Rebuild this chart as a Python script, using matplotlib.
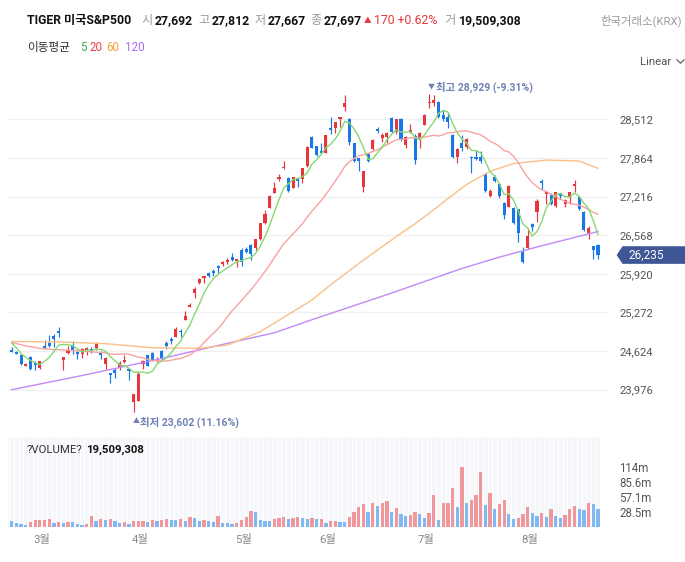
import numpy as np
import pandas as pd
import matplotlib
matplotlib.use("Agg")
import matplotlib.pyplot as plt
import matplotlib.transforms as mtransforms
from matplotlib.patches import Polygon

plt.rcParams['font.family'] = ['Roboto', 'Noto Sans CJK KR', 'DejaVu Sans']

# ---------------- data ----------------
opens = [
    24637, 24609, 24553, 24379, 24525, 24430, 24340, 24715, 24765, 24883,
    24966, 24480, 24597, 24709, 24614, 24581, 24637, 24664, 24676, 24597,
    24413, 24256, 24312, 24340, 24441, 24329, 23764, 23792, 24413, 24553,
    24592, 24452, 24625, 24754, 24827, 24866, 24961, 25145, 25368, 25592,
    25760, 25855, 25927, 25966, 26056, 26084, 26123, 26207, 26134, 26319,
    26336, 26403, 26358, 26504, 26778, 27018, 27281, 27505, 27689, 27521,
    27365, 27505, 27505, 27729, 28221, 28070, 27986, 27941, 28360, 28360,
    28511, 28724, 28511, 28109, 27857, 27382, 27930, 28014, 28344, 28193,
    28221, 28528, 28304, 28511, 28081, 28304, 28237, 28182, 28416, 28780,
    28791, 28808, 28584, 28556, 28249, 27874, 28120, 28053, 27885, 27874,
    27874, 27589, 27225, 27550, 27427, 27114, 27035, 27019, 27002, 26292,
    26348, 26756, 26963, 27483, 27259, 27242, 27058, 27270, 27091, 27203,
    27393, 27203, 26963, 26610, 26392, 26404]
highs = [
    24687, 24620, 24575, 24420, 24536, 24463, 24463, 24804, 24888, 24905,
    25022, 24519, 24715, 24799, 24631, 24676, 24698, 24687, 24776, 24620,
    24525, 24256, 24335, 24463, 24553, 24329, 23904, 24284, 24469, 24564,
    24603, 24519, 24637, 24793, 24855, 25022, 25000, 25296, 25424, 25704,
    25844, 25883, 25950, 25994, 26067, 26140, 26179, 26263, 26168, 26353,
    26375, 26414, 26504, 26778, 26990, 27242, 27454, 27589, 27818, 27538,
    27550, 27521, 27701, 28064, 28237, 28070, 28109, 28249, 28545, 28472,
    28545, 28915, 28528, 28109, 27868, 27645, 27941, 28182, 28388, 28288,
    28293, 28545, 28511, 28528, 28232, 28427, 28260, 28293, 28595, 28929,
    28920, 28819, 28668, 28612, 28260, 28025, 28249, 28204, 27896, 27997,
    27986, 27595, 27337, 27578, 27438, 27130, 27410, 27035, 27002, 26376,
    26683, 26767, 27170, 27511, 27298, 27270, 27298, 27281, 27175, 27298,
    27494, 27214, 26974, 26722, 26392, 26415]
lows = [
    24603, 24575, 24396, 24375, 24301, 24301, 24323, 24664, 24687, 24698,
    24855, 24312, 24575, 24581, 24497, 24508, 24553, 24586, 24648, 24497,
    24329, 24089, 24172, 24312, 24430, 24139, 23602, 23781, 24329, 24368,
    24452, 24441, 24480, 24653, 24737, 24855, 24866, 25145, 25368, 25520,
    25743, 25760, 25872, 25888, 25927, 26050, 26084, 26140, 26039, 26050,
    26263, 26151, 26319, 26487, 26755, 27018, 27281, 27482, 27678, 27298,
    27354, 27382, 27449, 27717, 28025, 27902, 27930, 27941, 28265, 28288,
    28377, 28657, 28081, 27790, 27645, 27298, 27801, 27997, 28277, 28137,
    28109, 28288, 28260, 28154, 28025, 28277, 27762, 28025, 28416, 28707,
    28741, 28539, 28489, 28360, 27857, 27773, 27986, 28008, 27606, 27829,
    27785, 27298, 27214, 27466, 27186, 26840, 27035, 26756, 26459, 26096,
    26331, 26644, 26795, 27337, 27091, 27074, 27035, 27170, 27035, 27091,
    27298, 26991, 26644, 26499, 26163, 26163]
closes = [
    24603, 24581, 24413, 24413, 24323, 24396, 24458, 24681, 24709, 24832,
    24933, 24519, 24648, 24637, 24581, 24653, 24676, 24620, 24760, 24553,
    24508, 24228, 24262, 24418, 24474, 24295, 23904, 24239, 24452, 24379,
    24463, 24497, 24515, 24709, 24787, 24994, 24944, 25212, 25402, 25665,
    25827, 25883, 25883, 25927, 26022, 26123, 26151, 26151, 26168, 26112,
    26280, 26246, 26504, 26767, 26923, 27225, 27365, 27550, 27717, 27315,
    27538, 27482, 27689, 28042, 28036, 27913, 27941, 28249, 28332, 28472,
    28545, 28791, 28126, 27812, 27812, 27645, 27818, 28165, 28316, 28249,
    28277, 28304, 28511, 28165, 28221, 28332, 27829, 28277, 28584, 28808,
    28836, 28556, 28511, 28472, 27874, 28008, 28036, 28176, 27857, 27852,
    27818, 27315, 27315, 27483, 27225, 26907, 27393, 26767, 26599, 26124,
    26554, 26711, 27147, 27438, 27298, 27091, 27287, 27225, 27158, 27287,
    27421, 27002, 26655, 26683, 26320, 26235]

# volume in millions of shares
volumes_m = [
    10.8, 8.2, 6.3, 4.4, 10.1, 12.5, 12.7, 12.9, 14.6, 7.0,
    8.9, 7.0, 8.9, 8.7, 6.3, 4.4, 6.3, 20.3, 10.8, 14.6,
    12.7, 14.6, 10.8, 7.0, 8.9, 5.1, 10.6, 10.8, 11.0, 8.9,
    12.7, 10.8, 12.7, 14.6, 12.7, 12.5, 14.6, 10.8, 18.4, 16.5,
    10.8, 12.7, 10.8, 8.9, 20.3, 7.0, 6.9, 5.1, 7.0, 12.7,
    18.4, 29.8, 27.9, 12.7, 10.8, 10.6, 14.6, 16.5, 18.4, 14.6,
    16.5, 18.4, 16.5, 14.6, 16.5, 14.6, 14.8, 8.2, 10.8, 11.0,
    8.9, 8.7, 18.4, 27.9, 37.4, 43.1, 27.9, 45.0, 39.3, 45.0,
    48.8, 27.9, 35.5, 24.1, 20.3, 22.2, 27.9, 24.1, 16.5, 26.0,
    60.2, 12.7, 45.0, 45.3, 73.5, 37.4, 113.4, 45.0, 50.7, 60.2,
    103.9, 41.2, 64.0, 33.6, 43.1, 50.7, 24.1, 14.6, 16.5, 24.1,
    37.4, 26.0, 20.3, 26.0, 18.4, 33.6, 20.3, 16.5, 22.2, 33.6,
    39.3, 33.6, 31.7, 45.0, 43.1, 33.6]
# 1 = volume rose vs previous day (red), 0 = fell (blue)
volume_up = [
    0, 0, 0, 0, 1, 1, 1, 1, 1, 0, 1, 0, 1, 0, 0, 0, 1, 1, 0, 1,
    0, 1, 0, 0, 1, 0, 1, 1, 1, 0, 1, 0, 1, 1, 0, 0, 1, 0, 1, 0,
    0, 1, 0, 0, 1, 0, 0, 0, 1, 1, 1, 1, 0, 0, 0, 0, 1, 1, 1, 0,
    1, 1, 0,
    0, 1, 0, 1, 0, 1, 1, 0, 0, 1, 1, 1, 1, 0, 1, 0, 1, 1, 0, 1,
    0, 0, 1, 1, 0, 0, 1, 1, 0, 1, 1, 1, 0, 1, 0, 1, 1, 1, 0, 1,
    0, 1, 1, 0, 0, 1, 1, 1, 0, 0, 1, 0, 1, 0, 0, 1, 1, 1, 0, 0,
    1, 0, 0]

# moving averages (parts that need history before the visible window)
ma5_head = [24760, 24680, 24580, 24520]
ma20_head_idx = [0, 3, 6, 9, 12, 15, 18]
ma20_head = [24770, 24710, 24670, 24650, 24640, 24625, 24605]
ma60_idx = [0, 10, 20, 30, 40, 46, 53, 60, 64, 68, 75, 82, 86, 89, 93, 97, 102, 107, 114, 121, 125]
ma60_val = [24785, 24778, 24748, 24680, 24670, 24725, 24950, 25285, 25480, 25735,
            26150, 26545, 26760, 26935, 27180, 27420, 27640, 27770, 27828, 27812, 27690]
ma120_idx = [0, 16, 32, 48, 56, 64, 72, 80, 88, 96, 104, 112, 118, 125]
ma120_val = [23976, 24230, 24500, 24790, 24930, 25150, 25360, 25570, 25790, 26010,
             26200, 26370, 26490, 26630]

month_start = [6, 27, 49, 67, 88, 110]
month_labels = ['3월', '4월', '5월', '6월', '7월', '8월']
price_ticks = [23976, 24624, 25272, 25920, 26568, 27216, 27864, 28512]
vol_ticks_m = [28.55, 57.1, 85.65, 114.2]
vol_tick_labels = ['28.5m', '57.1m', '85.6m', '114m']

name = 'TIGER 미국S&P500'
sel_open, sel_high, sel_low, sel_close = 27692, 27812, 27667, 27697
sel_change, sel_pct, sel_volume = 170, 0.62, 19509308

# ---------------- styling ----------------
RED, BLUE = '#e8353b', '#1a78e6'
VRED, VBLUE = '#f0979b', '#80b8f2'
C5, C20, C60, C120 = '#86d872', '#f7a3a3', '#fbbf88', '#c08af7'
ANN = '#6f80b5'

W, H = 685, 562
fig = plt.figure(figsize=(W / 100, H / 100), dpi=100)
fig.patch.set_facecolor('white')


def rect(x0, y0, x1, y1):
    return [x0 / W, 1 - y1 / H, (x1 - x0) / W, (y1 - y0) / H]


n = len(closes)
x = np.arange(n)
O = np.array(opens, float); Hh = np.array(highs, float)
L = np.array(lows, float); C = np.array(closes, float)
up = C >= O
ccol = np.where(up, RED, BLUE)

# ---- price panel ----
ax = fig.add_axes(rect(8, 88, 608, 420))
ax.set_xlim(-0.789, 127.14)
ax.set_ylim(23467.8, 29037.1)
for s in ax.spines.values():
    s.set_visible(False)
ax.set_xticks([])
ax.yaxis.tick_right()
ax.set_yticks(price_ticks)
ax.set_yticklabels([f'{v:,}' for v in price_ticks])
ax.tick_params(axis='y', length=0, pad=8, labelsize=8.1, labelcolor='#555555')
ax.grid(axis='y', color='#f0f0f0', lw=1.0)
ax.set_axisbelow(True)

ax.vlines(x, L, Hh, colors=ccol, lw=0.85, zorder=2)
body_h = np.maximum(np.abs(C - O), 17)
ax.bar(x, body_h, bottom=np.minimum(O, C), width=0.66, color=ccol, lw=0, zorder=2)

cs = pd.Series(C)
ma5 = cs.rolling(5).mean().to_numpy()
ma5[:4] = ma5_head
ma20 = cs.rolling(20).mean().to_numpy()
ma20_x = list(ma20_head_idx) + list(range(19, n))
ma20_y = list(ma20_head) + list(ma20[19:])

ax.plot(ma120_idx, ma120_val, color=C120, lw=1.0, zorder=3)
ax.plot(ma60_idx, ma60_val, color=C60, lw=1.0, zorder=3)
ax.plot(ma20_x, ma20_y, color=C20, lw=1.0, zorder=3)
ax.plot(x, ma5, color=C5, lw=1.0, zorder=3)

# high / low annotations
imax = int(np.argmax(Hh)); hmax = int(Hh[imax])
imin = int(np.argmin(L)); lmin = int(L[imin])
last = int(C[-1])
pmax = (last - hmax) / hmax * 100
pmin = (last - lmin) / lmin * 100
ax.annotate('▼', xy=(imax, hmax), xytext=(-1.0, 5.2), textcoords='offset points',
            ha='left', va='center', fontsize=5, color=ANN, annotation_clip=False)
ax.annotate(f'최고 {hmax:,} ({pmax:.2f}%)', xy=(imax, hmax), xytext=(5.0, 5.2),
            textcoords='offset points', ha='left', va='center', fontsize=7.5,
            color=ANN, fontweight='bold', annotation_clip=False)
ax.annotate('▲', xy=(imin, lmin), xytext=(-0.7, -7.2), textcoords='offset points',
            ha='left', va='center', fontsize=5, color=ANN, annotation_clip=False)
ax.annotate(f'최저 {lmin:,} ({pmin:.2f}%)', xy=(imin, lmin), xytext=(4.6, -7.2),
            textcoords='offset points', ha='left', va='center', fontsize=7.5,
            color=ANN, fontweight='bold', annotation_clip=False)

# ---- volume panel ----
av = fig.add_axes(rect(8, 437, 601, 527))
av.set_facecolor('#f6f7fb')
av.set_xlim(-0.789, 125.65)
av.set_ylim(0, 171)
for s in av.spines.values():
    s.set_visible(False)
av.vlines(np.arange(-1, n) + 0.5, 0, 171, colors='white', lw=0.7, zorder=0)
vcol = np.where(np.array(volume_up) == 1, VRED, VBLUE)
av.bar(x, volumes_m, width=0.7, color=vcol, lw=0, zorder=2)
av.yaxis.tick_right()
av.set_yticks(vol_ticks_m)
av.set_yticklabels(vol_tick_labels)
av.tick_params(axis='y', length=0, pad=13, labelsize=8.3, labelcolor='#555555')
av.set_xticks(month_start)
av.set_xticklabels(month_labels)
av.tick_params(axis='x', length=0, pad=5, labelsize=8.2, labelcolor='#888888')
shift = mtransforms.ScaledTranslation(2 / 100, 0, fig.dpi_scale_trans)
for lab in av.get_xticklabels():
    lab.set_transform(lab.get_transform() + shift)

# ---- overlay for header / decorations (pixel coords) ----
ov = fig.add_axes([0, 0, 1, 1])
ov.set_xlim(0, W)
ov.set_ylim(H, 0)
ov.axis('off')
ov.set_zorder(10)

HY = 20.7
GRAY = '#9a9a9a'
ov.text(26.6, HY, name, fontsize=8.8, fontweight='bold', color='#111111', va='center')
items = [(141.8, '시', sel_open, 155.0), (198.0, '고', sel_high, 212.0),
         (255.0, '저', sel_low, 268.0), (310.0, '종', sel_close, 323.6)]
for lx, lab, val, vx in items:
    ov.text(lx, HY, lab, fontsize=8.8, color=GRAY, va='center')
    ov.text(vx, HY, f'{val:,}', fontsize=8.8, fontweight='bold', color='#111111', va='center')
ov.text(363.5, HY, '▲', fontsize=5.5, color=RED, va='center')
ov.text(374.5, HY, f'{sel_change} +{sel_pct:.2f}%', fontsize=8.8, color=RED, va='center')
ov.text(444.6, HY, '거', fontsize=8.8, color=GRAY, va='center')
ov.text(458.8, HY, f'{sel_volume:,}', fontsize=8.8, fontweight='bold', color='#111111', va='center')
ov.text(682.0, HY, '한국거래소(KRX)', fontsize=8.2, color=GRAY, va='center', ha='right')

LY = 47.7
ov.text(26.6, LY, '이동평균', fontsize=8.4, color='#333333', va='center')
for lx, lab, col in [(80.0, '5', '#3cb043'), (90.0, '20', '#f2404a'),
                     (106.0, '60', '#f6a03c'), (125.0, '120', '#a66cf0')]:
    ov.text(lx, LY, lab, fontsize=8.4, color=col, va='center')

ov.text(640.5, 61.7, 'Linear', fontsize=8.2, color='#555555', va='center')
ov.plot([677.0, 680.5, 684.0], [59.8, 63.3, 59.8], color='#666666', lw=0.9)

ov.text(26.7, 450.0, '?VOLUME?', fontsize=8.2, color='#333333', va='center')
ov.text(85.7, 450.0, f'{sel_volume:,}', fontsize=8.2, fontweight='bold', color='#111111', va='center')

# current price tag
ydisp = ax.transData.transform((0, last))[1]
ypx = ov.transData.inverted().transform((0, ydisp))[1]
tag = Polygon([(616.7, ypx), (622.5, ypx - 8.8), (686, ypx - 8.8),
               (686, ypx + 8.8), (622.5, ypx + 8.8)], closed=True,
              facecolor='#3e5596', edgecolor='none')
ov.add_patch(tag)
ov.text(628.0, ypx, f'{last:,}', fontsize=8.5, color='white', va='center')

fig.savefig('out.png', dpi=100, facecolor='white')
